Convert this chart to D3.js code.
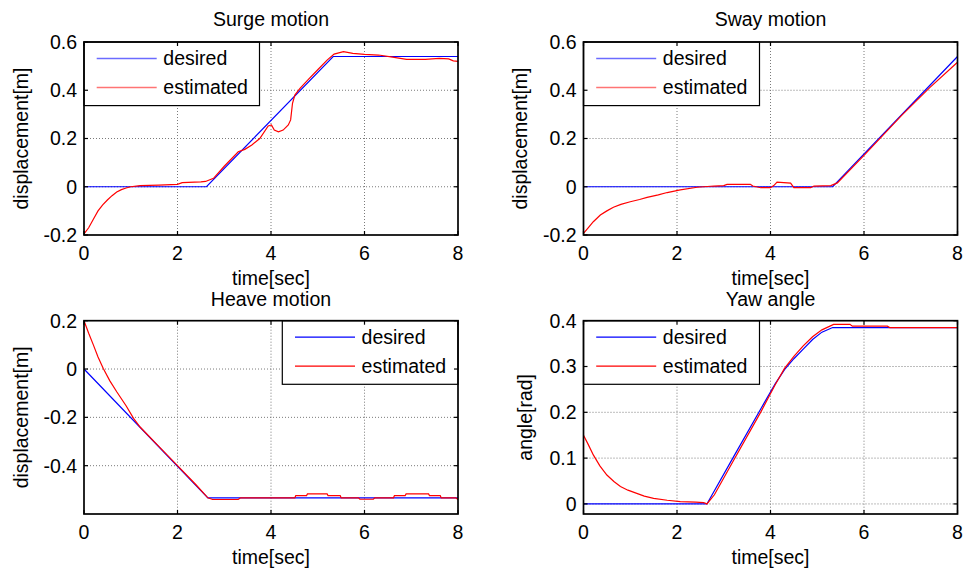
<!DOCTYPE html>
<html>
<head>
<meta charset="utf-8">
<script src="https://cdnjs.cloudflare.com/ajax/libs/d3/7.8.5/d3.min.js"></script>
<style>
  html, body { margin: 0; padding: 0; background: #fff; }
  svg { display: block; }
  text { font-family: "Liberation Sans", Arial, sans-serif; font-size: 19.5px; fill: #000; }
</style>
</head>
<body>
<svg id="chart" width="965" height="571"></svg>
<script>
// ---------------- data ----------------
const xTicks = [0, 2, 4, 6, 8];
const legendLabels = ["desired", "estimated"];

// Surge motion
const surgeDesT = [0, 2.62, 5.33, 8];
const surgeDes  = [0, 0, 0.54, 0.54];
const surgeEstT = [0, 0.1, 0.2, 0.3, 0.4, 0.5, 0.6, 0.7, 0.8, 0.9, 1.0, 1.2, 1.6, 2.0, 2.1, 2.5, 2.6, 2.77, 3.0, 3.3, 3.44, 3.59, 3.76, 3.94, 4.01, 4.07, 4.16, 4.26, 4.37, 4.42, 4.46, 4.51, 4.62, 4.8, 5.0, 5.2, 5.35, 5.55, 5.75, 6.0, 6.3, 6.6, 6.9, 7.3, 7.6, 7.8, 7.9, 8.0];
const surgeEst  = [-0.195, -0.17, -0.135, -0.1, -0.075, -0.055, -0.037, -0.022, -0.012, -0.005, 0.0, 0.005, 0.007, 0.01, 0.017, 0.02, 0.022, 0.035, 0.085, 0.145, 0.155, 0.173, 0.2, 0.252, 0.256, 0.235, 0.228, 0.235, 0.256, 0.277, 0.346, 0.38, 0.408, 0.445, 0.485, 0.525, 0.55, 0.56, 0.553, 0.549, 0.546, 0.537, 0.528, 0.528, 0.532, 0.53, 0.522, 0.52];

// Sway motion
const swayDesT = [0, 5.33, 8];
const swayDes  = [0, 0, 0.54];
const swayEstT = [0, 0.1, 0.21, 0.36, 0.5, 0.64, 0.8, 1.0, 1.2, 1.36, 1.6, 1.79, 2.07, 2.43, 2.79, 3.0, 3.07, 3.57, 3.62, 3.79, 4.0, 4.07, 4.14, 4.43, 4.5, 4.86, 4.93, 5.29, 5.43, 6.0, 6.8, 7.4, 8.0];
const swayEst  = [-0.193, -0.17, -0.145, -0.117, -0.1, -0.085, -0.073, -0.062, -0.053, -0.044, -0.034, -0.024, -0.013, -0.002, 0.003, 0.005, 0.01, 0.01, 0.003, -0.004, -0.004, 0.005, 0.019, 0.015, -0.004, -0.004, 0.003, 0.005, 0.016, 0.13, 0.295, 0.41, 0.516];

// Heave motion
const heaveDesT = [0, 2.65, 8];
const heaveDes  = [0, -0.533, -0.533];
const heaveEstT = [0, 0.1, 0.2, 0.3, 0.41, 0.55, 0.7, 0.9, 1.06, 1.2, 1.6, 2.0, 2.4, 2.65, 2.75, 3.3, 3.35, 4.51, 4.53, 4.76, 4.78, 5.2, 5.22, 5.48, 5.5, 5.87, 5.9, 6.19, 6.22, 6.62, 6.64, 6.87, 6.89, 7.37, 7.39, 7.62, 7.64, 7.95, 8.0];
const heaveEst  = [0.2, 0.148, 0.1, 0.05, 0.003, -0.048, -0.094, -0.152, -0.204, -0.24, -0.32, -0.4, -0.48, -0.533, -0.54, -0.54, -0.533, -0.533, -0.524, -0.524, -0.517, -0.517, -0.524, -0.524, -0.533, -0.533, -0.539, -0.539, -0.533, -0.533, -0.524, -0.524, -0.517, -0.517, -0.524, -0.524, -0.533, -0.533, -0.54];

// Yaw angle
const yawDesT = [0, 2.64, 3.2, 3.8, 4.1, 4.3, 4.5, 4.7, 4.9, 5.1, 5.33, 8];
const yawDes  = [0, 0, 0.101, 0.209, 0.262, 0.293, 0.317, 0.338, 0.359, 0.375, 0.385, 0.385];
const yawEstT = [0, 0.1, 0.21, 0.35, 0.5, 0.65, 0.79, 0.95, 1.14, 1.3, 1.5, 1.79, 2.07, 2.4, 2.57, 2.64, 2.8, 3.2, 3.8, 4.1, 4.3, 4.5, 4.7, 4.9, 5.1, 5.35, 5.5, 5.7, 5.75, 6.5, 6.55, 8];
const yawEst  = [0.15, 0.13, 0.107, 0.083, 0.063, 0.049, 0.038, 0.03, 0.023, 0.017, 0.012, 0.008, 0.005, 0.004, 0.003, 0.0, 0.02, 0.093, 0.202, 0.26, 0.296, 0.322, 0.345, 0.365, 0.38, 0.392, 0.392, 0.392, 0.388, 0.388, 0.385, 0.385];

const titles = ["Surge motion", "Sway motion", "Heave motion", "Yaw angle"];
const yLabels = ["displacement[m]", "displacement[m]", "displacement[m]", "angle[rad]"];
const yTickSets = [
  [-0.2, 0, 0.2, 0.4, 0.6],
  [-0.2, 0, 0.2, 0.4, 0.6],
  [-0.4, -0.2, 0, 0.2],
  [0, 0.1, 0.2, 0.3, 0.4]
];
const yDomains = [[-0.2, 0.6], [-0.2, 0.6], [-0.6, 0.2], [-0.022, 0.4]];

// ---------------- layout ----------------
const layouts = [
  { x0: 84,    x1: 458,   y0: 42,    y1: 235, ylabX: 27.7,  legX: 84,    legW: 175.5, legLight: true },
  { x0: 583.5, x1: 957.5, y0: 42,    y1: 235, ylabX: 526.8, legX: 583.5, legW: 176,   legLight: true },
  { x0: 84,    x1: 458,   y0: 320.7, y1: 514, ylabX: 27.7,  legX: 282.3, legW: 175.7, legLight: false },
  { x0: 583.5, x1: 957.5, y0: 320.7, y1: 514, ylabX: 531.8, legX: 583.5, legW: 176,   legLight: false }
];

const series = [
  [surgeDesT, surgeDes, surgeEstT, surgeEst],
  [swayDesT, swayDes, swayEstT, swayEst],
  [heaveDesT, heaveDes, heaveEstT, heaveEst],
  [yawDesT, yawDes, yawEstT, yawEst]
];

const svg = d3.select("#chart");
const fmt = v => (v === 0 ? "0" : String(+v.toFixed(2)));

layouts.forEach((L, i) => {
  const g = svg.append("g");
  const x = d3.scaleLinear().domain([0, 8]).range([L.x0, L.x1]);
  const y = d3.scaleLinear().domain(yDomains[i]).range([L.y1, L.y0]);
  const yt = yTickSets[i];

  // grid
  const grid = g.append("g").attr("stroke", "#7a7a7a").attr("stroke-width", 1).attr("stroke-dasharray", "1,2");
  xTicks.filter(t => t > 0 && t < 8).forEach(t => {
    grid.append("line").attr("x1", x(t)).attr("x2", x(t)).attr("y1", L.y0).attr("y2", L.y1);
  });
  yt.filter(t => y(t) > L.y0 + 1 && y(t) < L.y1 - 1).forEach(t => {
    grid.append("line").attr("x1", L.x0).attr("x2", L.x1).attr("y1", y(t)).attr("y2", y(t));
  });

  // data lines
  const [dT, dV, eT, eV] = series[i];
  const line = d3.line().x(d => x(d[0])).y(d => y(d[1]));
  g.append("path").datum(dT.map((t, k) => [t, dV[k]]))
    .attr("d", line).attr("fill", "none").attr("stroke", "#0000ff").attr("stroke-width", 1.2);
  g.append("path").datum(eT.map((t, k) => [t, eV[k]]))
    .attr("d", line).attr("fill", "none").attr("stroke", "#ff0000").attr("stroke-width", 1.2);

  // legend
  const legH = 63.6;
  const lg = g.append("g").attr("transform", `translate(${L.legX},${L.y0})`);
  lg.append("rect").attr("x", 0).attr("y", 0).attr("width", L.legW).attr("height", legH)
    .attr("fill", "#fff").attr("stroke", "#000").attr("stroke-width", 1.2);
  const legColors = L.legLight ? ["#6b6bff", "#ff7474"] : ["#0000ff", "#ff0000"];
  legendLabels.forEach((lab, k) => {
    const ly = 16.5 + k * 29;
    lg.append("line").attr("x1", 12.7).attr("x2", 72.7).attr("y1", ly).attr("y2", ly)
      .attr("stroke", legColors[k]).attr("stroke-width", 1.3);
    lg.append("text").attr("x", 79.3).attr("y", ly).attr("dy", "0.35em").text(lab);
  });

  // axes box
  g.append("rect").attr("x", L.x0).attr("y", L.y0).attr("width", L.x1 - L.x0).attr("height", L.y1 - L.y0)
    .attr("fill", "none").attr("stroke", "#000").attr("stroke-width", 1.7);

  // ticks (inside, all four sides)
  const tk = g.append("g").attr("stroke", "#000").attr("stroke-width", 1.2);
  const tl = 4;
  xTicks.forEach(t => {
    tk.append("line").attr("x1", x(t)).attr("x2", x(t)).attr("y1", L.y1).attr("y2", L.y1 - tl);
    tk.append("line").attr("x1", x(t)).attr("x2", x(t)).attr("y1", L.y0).attr("y2", L.y0 + tl);
  });
  yt.forEach(t => {
    tk.append("line").attr("x1", L.x0).attr("x2", L.x0 + tl).attr("y1", y(t)).attr("y2", y(t));
    tk.append("line").attr("x1", L.x1).attr("x2", L.x1 - tl).attr("y1", y(t)).attr("y2", y(t));
  });

  // tick labels
  xTicks.forEach(t => {
    g.append("text").attr("x", x(t)).attr("y", L.y1 + 25).attr("text-anchor", "middle").text(fmt(t));
  });
  yt.forEach(t => {
    g.append("text").attr("x", L.x0 - 7).attr("y", y(t)).attr("dy", "0.35em").attr("text-anchor", "end").text(fmt(t));
  });

  // title & labels
  const cx = (L.x0 + L.x1) / 2, cy = (L.y0 + L.y1) / 2;
  g.append("text").attr("x", cx).attr("y", L.y0 - (i < 2 ? 16 : 14.5)).attr("text-anchor", "middle").text(titles[i]);
  g.append("text").attr("x", cx).attr("y", L.y1 + 49.5).attr("text-anchor", "middle").text("time[sec]");
  g.append("text").attr("transform", `translate(${L.ylabX},${cy}) rotate(-90)`)
    .attr("text-anchor", "middle").text(yLabels[i]);
});
</script>
</body>
</html>
